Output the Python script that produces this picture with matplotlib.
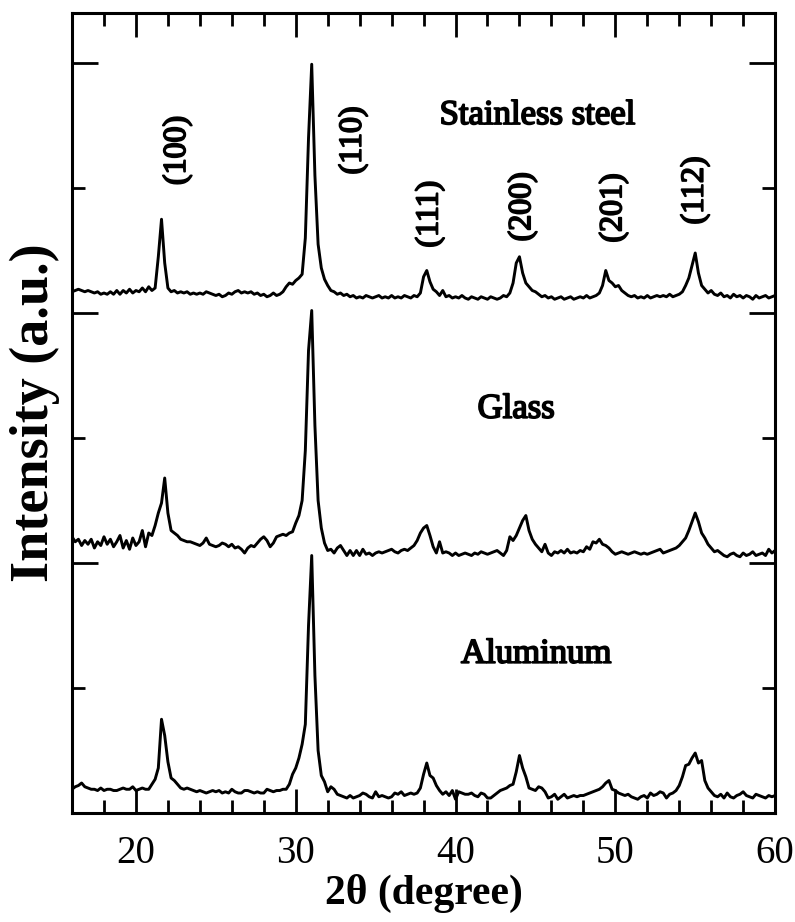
import numpy as np
import matplotlib
matplotlib.use("Agg")
import matplotlib.pyplot as plt
from matplotlib.ticker import MultipleLocator
import matplotlib.patheffects as pe

# 2-theta sampling grid (degrees)
two_theta = np.round(np.arange(16.0, 60.0001, 0.2), 1)

# Diffracted intensity of each film (a.u. x 100), one row per degree
stainless_steel = np.array([
    17, 18, 19, 18, 17,
    18, 17, 16, 17, 15,
    16, 15, 17, 15, 18,
    15, 18, 16, 19, 16,
    18, 17, 20, 17, 21,
    18, 20, 45, 75, 40,
    20, 17, 18, 16, 17,
    16, 17, 15, 16, 15,
    16, 15, 17, 16, 15,
    14, 15, 13, 14, 16,
    15, 17, 18, 16, 17,
    16, 17, 15, 16, 14,
    15, 13, 14, 16, 14,
    15, 17, 21, 24, 23,
    26, 28, 31, 60, 140,
    199, 110, 55, 36, 27,
    22, 18, 17, 15, 16,
    14, 15, 13, 14, 12,
    13, 12, 14, 13, 12,
    13, 14, 12, 13, 12,
    14, 12, 13, 12, 14,
    13, 12, 14, 13, 16,
    29, 34, 25, 19, 17,
    14, 18, 13, 14, 12,
    13, 12, 14, 12, 11,
    13, 12, 11, 13, 12,
    11, 13, 12, 11, 12,
    14, 13, 16, 24, 40,
    45, 32, 24, 21, 18,
    17, 15, 13, 14, 12,
    13, 11, 12, 13, 11,
    12, 13, 11, 12, 13,
    12, 14, 12, 13, 14,
    16, 22, 34, 26, 24,
    21, 22, 18, 16, 14,
    13, 14, 12, 13, 12,
    14, 12, 13, 14, 13,
    14, 13, 15, 13, 14,
    15, 17, 22, 28, 38,
    48, 32, 22, 19, 16,
    18, 15, 14, 16, 13,
    14, 12, 15, 13, 14,
    12, 14, 13, 11, 14,
    12, 13, 14, 12, 13,
    14,
]) / 100.0

glass = np.array([
    21, 17, 19, 14, 18,
    15, 19, 12, 17, 14,
    21, 15, 19, 13, 17,
    22, 12, 18, 11, 20,
    14, 17, 26, 13, 24,
    22, 30, 40, 48, 68,
    40, 26, 24, 22, 19,
    18, 17, 17, 16, 15,
    14, 16, 20, 15, 14,
    13, 14, 16, 15, 13,
    15, 12, 13, 11, 8,
    12, 14, 13, 16, 19,
    21, 18, 13, 16, 21,
    22, 23, 22, 24, 25,
    32, 38, 50, 90, 170,
    202, 110, 50, 28, 16,
    10, 11, 8, 12, 14,
    10, 6, 10, 6, 10,
    6, 11, 7, 8, 6,
    8, 9, 8, 9, 10,
    11, 9, 8, 10, 11,
    10, 12, 14, 18, 24,
    28, 30, 22, 13, 8,
    17, 8, 9, 8, 6,
    8, 6, 7, 8, 7,
    6, 8, 7, 9, 8,
    7, 8, 9, 10, 8,
    6, 10, 21, 18, 22,
    28, 34, 38, 26, 19,
    15, 12, 9, 15, 8,
    6, 9, 8, 10, 8,
    11, 8, 9, 8, 10,
    9, 13, 11, 17, 16,
    19, 15, 14, 12, 9,
    7, 8, 9, 8, 7,
    8, 9, 8, 7, 8,
    7, 8, 9, 10, 11,
    8, 9, 10, 11, 12,
    14, 17, 20, 26, 33,
    40, 33, 24, 20, 15,
    12, 9, 10, 8, 6,
    5, 7, 8, 6, 5,
    8, 6, 7, 9, 6,
    7, 8, 6, 11, 8,
    10,
]) / 100.0

aluminum = np.array([
    19, 21, 22, 24, 21,
    20, 19, 19, 18, 20,
    18, 19, 19, 18, 18,
    19, 20, 19, 19, 21,
    18, 19, 20, 19, 19,
    23, 27, 36, 75, 62,
    41, 28, 26, 23, 20,
    19, 20, 19, 18, 17,
    18, 17, 16, 17, 18,
    17, 18, 16, 17, 16,
    19, 17, 16, 16, 18,
    18, 17, 16, 17, 16,
    16, 19, 18, 17, 18,
    18, 19, 19, 23, 31,
    36, 44, 55, 71, 150,
    206, 110, 50, 30, 25,
    17, 21, 19, 15, 14,
    13, 12, 14, 12, 13,
    14, 16, 15, 13, 12,
    17, 13, 14, 13, 12,
    13, 16, 15, 17, 14,
    15, 16, 15, 16, 20,
    31, 40, 30, 28, 22,
    18, 15, 17, 14, 18,
    11, 17, 16, 15, 15,
    16, 14, 13, 16, 15,
    12, 12, 14, 16, 18,
    19, 20, 22, 23, 33,
    46, 36, 29, 20, 19,
    18, 21, 20, 17, 12,
    13, 15, 11, 13, 15,
    12, 13, 14, 13, 14,
    14, 15, 16, 17, 18,
    19, 21, 24, 26, 19,
    18, 16, 15, 14, 15,
    13, 12, 11, 13, 14,
    12, 16, 14, 15, 17,
    16, 12, 15, 16, 18,
    22, 29, 38, 39, 44,
    48, 40, 42, 26, 20,
    17, 14, 13, 15, 12,
    16, 13, 12, 14, 15,
    17, 14, 13, 12, 15,
    14, 13, 12, 14, 13,
    14,
]) / 100.0

sample_names = ["Aluminum", "Glass", "Stainless steel"]
sample_curves = [aluminum, glass, stainless_steel]
hkl_labels = ["(100)", "(110)", "(111)", "(200)", "(201)", "(112)"]

# Vertical stacking of the three patterns and text placement
panel_offsets = [0.0, 2.0, 4.0]
name_xy = [(45.05, 1.27), (43.8, 3.23), (45.15, 5.58)]
hkl_xy = [(22.6, 5.30), (33.6, 5.38), (38.4, 4.79),
          (44.2, 4.85), (49.9, 4.84), (55.0, 4.98)]

plt.rcParams["font.family"] = ["Liberation Serif", "DejaVu Serif"]
plt.rcParams["axes.linewidth"] = 2.2

fig = plt.figure(figsize=(7.95, 9.22), dpi=100)
ax = fig.add_axes([0.0906, 0.1182, 0.8844, 0.8677])

thick = [pe.withStroke(linewidth=1.3, foreground="black")]

for curve, offset in zip(sample_curves, panel_offsets):
    ax.plot(two_theta, curve + offset, color="black", lw=2.1,
            solid_joinstyle="round")

for name, (tx, ty) in zip(sample_names, name_xy):
    ax.text(tx, ty, name, fontsize=25, ha="center", va="center",
            path_effects=thick)

for lab, (tx, ty) in zip(hkl_labels, hkl_xy):
    ax.text(tx, ty, lab, fontsize=23, rotation=90, ha="center",
            va="center", path_effects=thick)

ax.set_xlim(16, 60)
ax.set_ylim(0, 6.4)
ax.xaxis.set_major_locator(MultipleLocator(10))
ax.xaxis.set_minor_locator(MultipleLocator(2))
ax.yaxis.set_major_locator(MultipleLocator(2))
ax.yaxis.set_minor_locator(MultipleLocator(1))

ax.tick_params(which="both", direction="in", top=True, right=True,
               width=2.0, color="black")
ax.tick_params(axis="x", which="major", length=17, labelsize=28, pad=16)
ax.tick_params(axis="x", which="minor", length=9.5)
ax.tick_params(axis="y", which="major", length=19)
ax.tick_params(axis="y", which="minor", length=9.5)
ax.tick_params(axis="y", which="both", labelleft=False)

ax.set_xlabel("2θ (degree)", fontsize=30, fontweight="bold", labelpad=1)
ax.set_ylabel("Intensity (a.u.)", fontsize=39, fontweight="bold",
              labelpad=9)

fig.savefig("out.png", dpi=100)
